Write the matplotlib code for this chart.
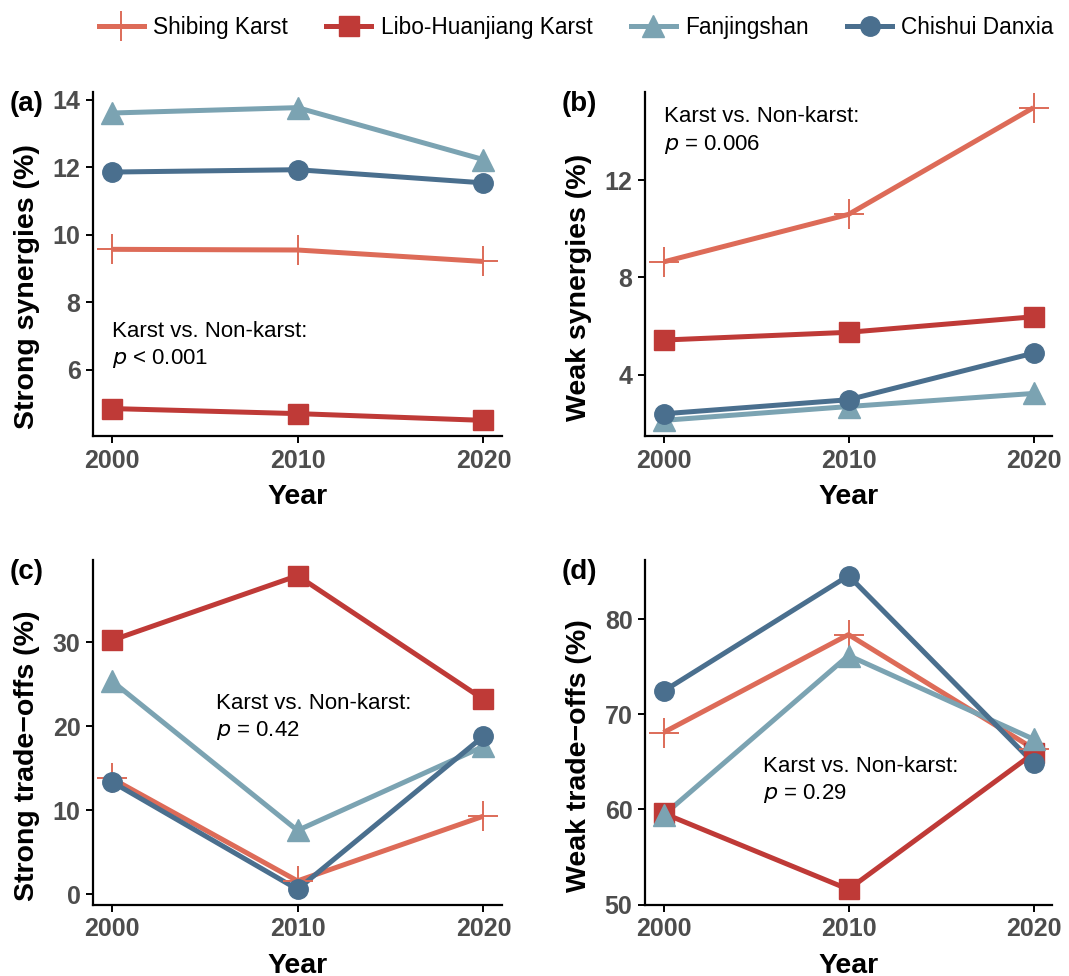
import matplotlib
matplotlib.use("Agg")
import matplotlib.pyplot as plt
from matplotlib.lines import Line2D

plt.rcParams['font.family'] = ['Liberation Sans', 'DejaVu Sans']

years = [2000, 2010, 2020]
sites = ["Shibing Karst", "Libo-Huanjiang Karst", "Fanjingshan", "Chishui Danxia"]

strong_synergies = {
    "Shibing Karst": [9.57, 9.55, 9.21],
    "Libo-Huanjiang Karst": [4.85, 4.70, 4.50],
    "Fanjingshan": [13.61, 13.77, 12.23],
    "Chishui Danxia": [11.86, 11.93, 11.54],
}
weak_synergies = {
    "Shibing Karst": [8.64, 10.60, 15.0],
    "Libo-Huanjiang Karst": [5.42, 5.74, 6.38],
    "Fanjingshan": [2.11, 2.68, 3.22],
    "Chishui Danxia": [2.38, 2.96, 4.88],
}
strong_tradeoffs = {
    "Shibing Karst": [13.8, 1.6, 9.3],
    "Libo-Huanjiang Karst": [30.2, 37.9, 23.2],
    "Fanjingshan": [25.4, 7.6, 17.6],
    "Chishui Danxia": [13.4, 0.6, 18.8],
}
weak_tradeoffs = {
    "Shibing Karst": [68.1, 78.4, 66.4],
    "Libo-Huanjiang Karst": [59.6, 51.6, 65.9],
    "Fanjingshan": [59.4, 76.2, 67.4],
    "Chishui Danxia": [72.45, 84.6, 64.9],
}

colors = {
    "Shibing Karst": "#DD6B58",
    "Libo-Huanjiang Karst": "#BF3A37",
    "Fanjingshan": "#7BA3B2",
    "Chishui Danxia": "#4A6F8E",
}
markers = {
    "Shibing Karst": dict(marker="+", markersize=22, markeredgewidth=1.4),
    "Libo-Huanjiang Karst": dict(marker="s", markersize=14),
    "Fanjingshan": dict(marker="^", markersize=16),
    "Chishui Danxia": dict(marker="o", markersize=14),
}

W, H = 1069, 976
fig = plt.figure(figsize=(W / 100, H / 100), dpi=100)


def px_axes(left, top, right, bottom):
    return fig.add_axes([left / W, 1 - bottom / H, (right - left) / W, (bottom - top) / H])


panels = [
    ("(a)", strong_synergies, "Strong synergies (%)", [6, 8, 10, 12, 14],
     (2000, 7.45), "Karst vs. Non-karst:\n$\\it{p}$ < 0.001", (93, 92, 502, 436)),
    ("(b)", weak_synergies, "Weak synergies (%)", [4, 8, 12],
     (2000, 15.05), "Karst vs. Non-karst:\n$\\it{p}$ = 0.006", (645, 92, 1052, 436)),
    ("(c)", strong_tradeoffs, "Strong trade\u2212offs (%)", [0, 10, 20, 30],
     (2005.6, 24.0), "Karst vs. Non-karst:\n$\\it{p}$ = 0.42", (93, 560, 502, 905)),
    ("(d)", weak_tradeoffs, "Weak trade\u2212offs (%)", [50, 60, 70, 80],
     (2005.4, 65.6), "Karst vs. Non-karst:\n$\\it{p}$ = 0.29", (645, 560, 1052, 905)),
]

for tag, data, ylabel, yticks, txt_xy, txt, box in panels:
    ax = px_axes(*box)
    for s in sites:
        ax.plot(years, data[s], color=colors[s], lw=3.6, zorder=2,
                solid_capstyle="butt")
    for s in sites:
        ax.plot(years, data[s], ls="none", color=colors[s], zorder=3, **markers[s])

    vals = [v for s in sites for v in data[s]]
    lo, hi = min(vals), max(vals)
    pad = (hi - lo) * 0.05
    ax.set_ylim(lo - pad, hi + pad)
    ax.set_xlim(1999, 2021)
    ax.set_xticks(years)
    ax.set_yticks(yticks)

    for side in ("top", "right"):
        ax.spines[side].set_visible(False)
    for side in ("left", "bottom"):
        ax.spines[side].set_linewidth(1.6)
    ax.tick_params(axis="both", length=5, width=1.4, color="black",
                   labelsize=18, labelcolor="#4D4D4D", pad=4)
    for lab in ax.get_xticklabels() + ax.get_yticklabels():
        lab.set_fontweight("bold")

    ax.set_ylabel(ylabel, fontsize=20.5, fontweight="bold")
    ax.yaxis.set_label_coords(-0.13, 0.433)
    ax.set_xlabel("Year", fontsize=20.5, fontweight="bold", labelpad=8)
    ax.text(txt_xy[0], txt_xy[1], txt, fontsize=16, va="top", ha="left",
            linespacing=1.3)
    ax.text(-0.205, 0.965, tag, transform=ax.transAxes, fontsize=20,
            fontweight="bold", ha="left", va="center")

handles = [Line2D([], [], color=colors[s], lw=3.6, **markers[s]) for s in sites]
fig.legend(handles, sites, loc="center", bbox_to_anchor=(0.539, 0.972), ncol=4,
           frameon=False, fontsize=16.3, handlelength=2.0, columnspacing=1.7,
           handletextpad=0.4)

fig.savefig("out.png", dpi=100)
